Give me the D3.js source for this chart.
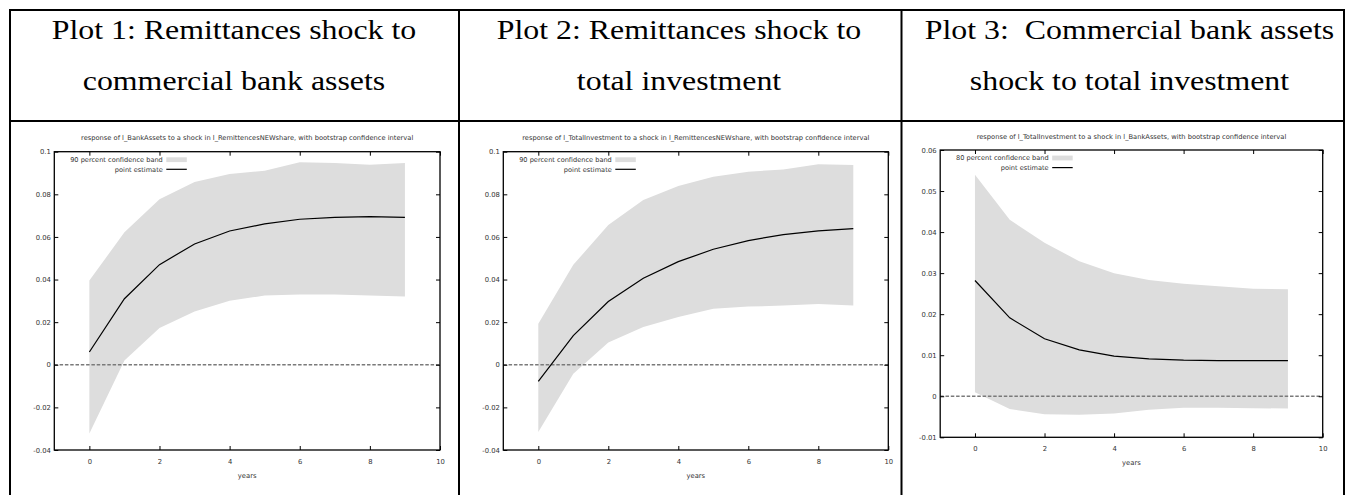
<!DOCTYPE html>
<html>
<head>
<meta charset="utf-8">
<script src="https://cdn.jsdelivr.net/npm/d3@7"></script>
<style>
  body { margin: 0; background: #fff; }
  svg { display: block; }
</style>
</head>
<body>
<svg id="chart" width="1349" height="495"></svg>
<script>
// headers of the table
const headers = [
    ['Plot 1: Remittances shock to', 'commercial bank assets'],
    ['Plot 2: Remittances shock to', 'total investment'],
    ['Plot 3:  Commercial bank assets', 'shock to total investment']
];

const titles = [
    'response of l_BankAssets to a shock in l_RemittencesNEWshare, with bootstrap confidence interval',
    'response of l_TotalInvestment to a shock in l_RemittencesNEWshare, with bootstrap confidence interval',
    'response of l_TotalInvestment to a shock in l_BankAssets, with bootstrap confidence interval'
];
const bandLabels = ['90 percent confidence band', '90 percent confidence band', '80 percent confidence band'];

const years = [0, 1, 2, 3, 4, 5, 6, 7, 8, 9];

const p1Est = [0.0060, 0.0310, 0.0470, 0.0567, 0.0628, 0.0661, 0.0683, 0.0692, 0.0695, 0.0692];
const p1Lo = [-0.0323, 0.0020, 0.0172, 0.0250, 0.0300, 0.0325, 0.0330, 0.0330, 0.0325, 0.0320];
const p1Hi = [0.0395, 0.0622, 0.0777, 0.0858, 0.0895, 0.0911, 0.0950, 0.0947, 0.0939, 0.0947];

const p2Est = [-0.0078, 0.0137, 0.0297, 0.0406, 0.0484, 0.0542, 0.0583, 0.0611, 0.0628, 0.0639];
const p2Lo = [-0.0316, -0.0042, 0.0105, 0.0177, 0.0224, 0.0263, 0.0273, 0.0278, 0.0285, 0.0278];
const p2Hi = [0.0192, 0.0469, 0.0656, 0.0773, 0.0839, 0.0883, 0.0906, 0.0917, 0.0941, 0.0938];

const p3Est = [0.0282, 0.0191, 0.0140, 0.0113, 0.0098, 0.0091, 0.0088, 0.0087, 0.0087, 0.0087];
const p3Lo = [0.0010, -0.0031, -0.0044, -0.0045, -0.0042, -0.0033, -0.0028, -0.0028, -0.0029, -0.0030];
const p3Hi = [0.0540, 0.0430, 0.0374, 0.0329, 0.0300, 0.0283, 0.0274, 0.0268, 0.0262, 0.0261];

const xTicks = [0, 2, 4, 6, 8, 10];
const yTicksA = [-0.04, -0.02, 0, 0.02, 0.04, 0.06, 0.08, 0.1];
const yTicksB = [-0.01, 0, 0.01, 0.02, 0.03, 0.04, 0.05, 0.06];

const svg = d3.select('#chart');
const sans = 'DejaVu Sans, sans-serif';
const ink = '#333';

// table lines
const table = { left: 10, right: 1344, top: 10, headBottom: 121, cols: [459, 901.5] };
const tl = svg.append('g').attr('stroke', '#000').attr('stroke-width', 2);
tl.append('line').attr('x1', table.left).attr('x2', table.right).attr('y1', table.top).attr('y2', table.top);
tl.append('line').attr('x1', table.left).attr('x2', table.right).attr('y1', table.headBottom).attr('y2', table.headBottom);
[table.left, table.right].concat(table.cols).forEach(x => {
    tl.append('line').attr('x1', x).attr('x2', x).attr('y1', table.top - 1).attr('y2', 495);
});

// header text is a little wider than the plain font
const headCenters = [234, 679, 1129.5];
headers.forEach((lines, i) => {
    lines.forEach((t, j) => {
        svg.append('text')
            .attr('transform', `translate(${headCenters[i]},${39 + j * 51}) scale(1.18,1)`)
            .attr('text-anchor', 'middle')
            .style('white-space', 'pre')
            .attr('font-family', 'Liberation Serif, Times New Roman, serif')
            .attr('font-size', 27)
            .text(t);
    });
});

const plots = [
    { est: p1Est, lo: p1Lo, hi: p1Hi, yTicks: yTicksA, yDom: [-0.04, 0.1], box: [54.3, 440, 151.7, 450] },
    { est: p2Est, lo: p2Lo, hi: p2Hi, yTicks: yTicksA, yDom: [-0.04, 0.1], box: [503.3, 888.3, 151.7, 450] },
    { est: p3Est, lo: p3Lo, hi: p3Hi, yTicks: yTicksB, yDom: [-0.01, 0.06], box: [940.2, 1322.7, 150, 437.3] }
];

const fmt = v => String(+v.toFixed(2));

plots.forEach((p, i) => {
    const [l, r, t, b] = p.box;
    const x = d3.scaleLinear().domain([-1, 10]).range([l, r]);
    const y = d3.scaleLinear().domain(p.yDom).range([b, t]);
    const g = svg.append('g');

    // confidence band
    const area = d3.area()
        .x((d, k) => x(years[k]))
        .y0((d, k) => y(p.lo[k]))
        .y1((d, k) => y(p.hi[k]));
    g.append('path').datum(years).attr('fill', '#dddddd').attr('d', area);

    // zero line
    g.append('line')
        .attr('x1', l).attr('x2', r).attr('y1', y(0)).attr('y2', y(0))
        .attr('stroke', '#7a7a7a').attr('stroke-width', 1.3).attr('stroke-dasharray', '3.5,1.8');

    // point estimate
    const line = d3.line().x((d, k) => x(years[k])).y(d => y(d));
    g.append('path').datum(p.est).attr('fill', 'none').attr('stroke', '#000').attr('stroke-width', 1.2).attr('d', line);

    // axes, ticks inward on all sides
    const tickLen = 4;
    const axStyle = a => {
        a.select('.domain').remove();
        a.selectAll('line').attr('stroke', '#000');
        a.selectAll('text').attr('font-family', sans).attr('font-size', 6.8).attr('fill', ink);
    };
    g.append('g').attr('transform', `translate(0,${b})`)
        .call(d3.axisBottom(x).tickValues(xTicks).tickSize(-tickLen).tickPadding(9).tickFormat(d3.format('d')))
        .call(axStyle);
    g.append('g').attr('transform', `translate(0,${t})`)
        .call(d3.axisTop(x).tickValues(xTicks).tickSize(-tickLen).tickFormat(''))
        .call(axStyle);
    g.append('g').attr('transform', `translate(${l},0)`)
        .call(d3.axisLeft(y).tickValues(p.yTicks).tickSize(-tickLen).tickPadding(3.5).tickFormat(fmt))
        .call(axStyle);
    g.append('g').attr('transform', `translate(${r},0)`)
        .call(d3.axisRight(y).tickValues(p.yTicks).tickSize(-tickLen).tickFormat(''))
        .call(axStyle);

    g.append('rect').attr('x', l).attr('y', t).attr('width', r - l).attr('height', b - t)
        .attr('fill', 'none').attr('stroke', '#000').attr('stroke-width', 1.3);

    // title and x label
    g.append('text').attr('x', (l + r) / 2).attr('y', t - 11.5)
        .attr('text-anchor', 'middle').attr('font-family', sans).attr('font-size', 6.7).attr('fill', ink)
        .text(titles[i]);
    g.append('text').attr('x', (l + r) / 2).attr('y', b + 28)
        .attr('text-anchor', 'middle').attr('font-family', sans).attr('font-size', 6.8).attr('fill', ink)
        .text('years');

    // legend
    const lx = l + 112;
    const lg = g.append('g').attr('font-family', sans).attr('font-size', 6.6).attr('fill', ink);
    lg.append('text').attr('x', lx - 3.5).attr('y', t + 10.3).attr('text-anchor', 'end').text(bandLabels[i]);
    lg.append('rect').attr('x', lx).attr('y', t + 5.6).attr('width', 20.5).attr('height', 4.8).attr('fill', '#dddddd');
    lg.append('text').attr('x', lx - 3.5).attr('y', t + 20).attr('text-anchor', 'end').text('point estimate');
    lg.append('line').attr('x1', lx).attr('x2', lx + 20.5).attr('y1', t + 17.6).attr('y2', t + 17.6)
        .attr('stroke', '#000').attr('stroke-width', 1.2);
});
</script>
</body>
</html>
